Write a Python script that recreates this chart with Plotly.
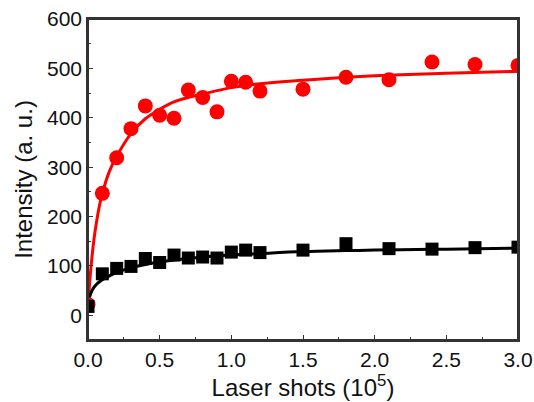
import plotly.graph_objects as go

# Measured data points
shots = [0.0, 0.1, 0.2, 0.3, 0.4, 0.5, 0.6, 0.7, 0.8, 0.9, 1.0, 1.1, 1.2, 1.5, 1.8, 2.1, 2.4, 2.7, 3.0]
red_vals = [22, 247, 319, 378, 424, 405, 399, 456, 441, 412, 474, 472, 454, 458, 482, 477, 513, 508, 506]
black_vals = [18, 84, 95, 99, 115, 107, 122, 116, 118, 116, 128, 132, 127, 132, 145, 135, 134, 137, 138]

# Fit curves
fit_x = [0.0, 0.01, 0.02, 0.04, 0.06, 0.08, 0.1, 0.15, 0.2, 0.3, 0.4, 0.5, 0.6, 0.7, 0.8, 1.0, 1.2, 1.5, 1.8, 2.0, 2.4, 2.5, 3.0]
red_fit = [20, 60, 95, 150, 190, 222, 247, 292, 322, 368, 398, 417, 432, 441, 448, 461, 469, 476, 482, 485, 489, 490, 494]
black_fit = [25, 36, 45, 56, 63, 68, 72, 80, 87, 96, 103, 108, 112, 115, 118, 122, 125, 129, 131, 132, 134, 134, 136]

x_ticks = [0.0, 0.5, 1.0, 1.5, 2.0, 2.5, 3.0]
x_tick_text = ["0.0", "0.5", "1.0", "1.5", "2.0", "2.5", "3.0"]
y_ticks = [0, 100, 200, 300, 400, 500, 600]

RED = "#FF0000"
BLACK = "#000000"
FRAME = "#333"
FONT = "Liberation Sans, Arial, sans-serif"

fig = go.Figure()
fig.add_trace(go.Scatter(x=fit_x, y=red_fit, mode="lines", line=dict(color=RED, width=3, shape="spline"), showlegend=False))
fig.add_trace(go.Scatter(x=fit_x, y=black_fit, mode="lines", line=dict(color=BLACK, width=3, shape="spline"), showlegend=False))
fig.add_trace(go.Scatter(x=shots, y=red_vals, mode="markers", marker=dict(symbol="circle", size=15, color=RED, line=dict(width=0)), showlegend=False))
fig.add_trace(go.Scatter(x=shots, y=black_vals, mode="markers", marker=dict(symbol="square", size=13, color=BLACK, line=dict(width=0)), showlegend=False))

axis_common = dict(
    showgrid=False, zeroline=False, showline=True, linecolor=FRAME, linewidth=1.5,
    mirror=True, ticks="inside", ticklen=5, tickwidth=1.2, tickcolor="#333",
    tickfont=dict(family=FONT, size=21, color="#111"),
    ticklabeloverflow="allow",
)

fig.update_xaxes(
    range=[0, 3.0], tickvals=x_ticks, ticktext=x_tick_text,
    minor=dict(ticks="inside", ticklen=3, dtick=0.25, tick0=0, tickcolor="#333"),
    title=dict(text="Laser shots (10<sup>5</sup>)", font=dict(family=FONT, size=24, color="#111"), standoff=6),
    **axis_common,
)
fig.update_yaxes(
    range=[-50, 600], tickvals=y_ticks,
    minor=dict(ticks="inside", ticklen=3, dtick=50, tick0=0, tickcolor="#333"),
    title=dict(text="Intensity (a. u.)", font=dict(family=FONT, size=24, color="#111"), standoff=8),
    **axis_common,
)

# plot frame
fig.add_shape(type="rect", xref="paper", yref="paper", x0=0, x1=1, y0=0, y1=1,
              line=dict(color=FRAME, width=2), fillcolor="rgba(0,0,0,0)", layer="above")

fig.update_layout(
    width=534, height=402,
    margin=dict(l=88, r=16, t=19, b=62, autoexpand=False),
    paper_bgcolor="white", plot_bgcolor="white",
    showlegend=False,
)

fig.write_html(
    "out.html",
    config={"displayModeBar": False},
    post_script="document.body.style.margin='0';document.body.style.overflow='hidden';",
)
